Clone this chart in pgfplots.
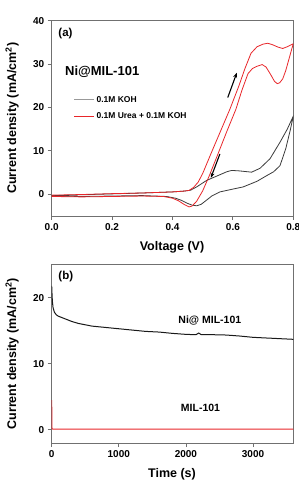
\documentclass[border=0pt]{standalone}
\usepackage{fontspec}
\setmainfont{Liberation Sans}
\usepackage{pgfplots}
\pgfplotsset{compat=1.18}
\usetikzlibrary{arrows.meta}

\definecolor{cvred}{HTML}{E8262A}
\definecolor{cvblack}{HTML}{3A3A3A}
\definecolor{framegray}{HTML}{707070}

\begin{document}
\begin{tikzpicture}
\useasboundingbox (0pt,0pt) rectangle (299pt,484pt);
\pgfplotsset{
  panel/.style={
    scale only axis, width=241.6pt,
    anchor=south west,
    axis line style={framegray, line width=0.8pt},
    tick align=outside, xtick pos=bottom, ytick pos=left,
    major tick length=4pt,
    tick style={framegray, line width=0.8pt},
    ticklabel style={font=\bfseries\fontsize{10}{12}\selectfont, text=black},
    /pgf/number format/assume math mode=true,
    /pgf/number format/1000 sep={},
    label style={font=\bfseries\fontsize{12.5}{14}\selectfont},
    ylabel style={at={(axis description cs:-0.164,0.5)}, anchor=center},
  }
}

% (a) cyclic voltammograms
\begin{axis}[panel, at={(51.7pt,268pt)}, height=195.3pt,
  xmin=0, xmax=0.8, ymin=-5, ymax=40,
  xtick={0,0.2,0.4,0.6,0.8},
  xticklabels={0.0,0.2,0.4,0.6,0.8},
  ytick={0,10,20,30,40},
  xlabel={Voltage (V)},
  ylabel={Current density (mA/cm\textsuperscript{2})},
  xlabel style={at={(axis description cs:0.498,-0.159)}, anchor=center},
  legend style={draw=none, fill=none, at={(axis description cs:0.09,0.625)}, anchor=north west,
    font=\bfseries\fontsize{8.5}{10}\selectfont, row sep=5pt, inner sep=0pt},
  legend cell align=left,
  legend image code/.code={\draw[#1] (0pt,0pt) -- (20pt,0pt);},
]
\addplot[cvblack, line width=0.8pt, forget plot] coordinates {
(0.00,-0.3) (0.10,-0.1) (0.20,0.1) (0.30,0.3) (0.40,0.55) (0.44,0.75) (0.46,0.95)
(0.48,1.7) (0.513,3.2) (0.55,4.3) (0.58,5.2) (0.596,5.5) (0.62,5.4) (0.662,5.1)
(0.69,6.0) (0.723,8.2) (0.756,12.0) (0.78,15.0) (0.80,18.0)
(0.79,14.8) (0.775,10.5) (0.756,6.6) (0.735,5.2) (0.712,4.3) (0.68,3.0) (0.634,1.7)
(0.60,1.2) (0.557,0.55) (0.53,-0.4) (0.51,-1.5) (0.495,-2.3) (0.48,-2.65) (0.465,-2.5)
(0.45,-2.1) (0.43,-1.4) (0.41,-0.9) (0.38,-0.5) (0.30,-0.3) (0.20,-0.4) (0.10,-0.5) (0.00,-0.4)
};
\addplot[cvred, line width=0.8pt, forget plot] coordinates {
(0.00,-0.2) (0.10,-0.05) (0.20,0.15) (0.30,0.3) (0.40,0.55) (0.44,0.75) (0.455,0.9)
(0.47,1.6) (0.485,2.8) (0.50,4.8) (0.53,9.8) (0.56,14.7) (0.59,19.6) (0.62,25.0)
(0.64,29.0) (0.66,32.5) (0.68,34.0) (0.70,34.6) (0.715,34.8) (0.73,34.5) (0.75,33.9)
(0.765,33.6) (0.78,34.0) (0.80,34.7)
(0.795,33.5) (0.785,31.0) (0.775,28.5) (0.765,26.6) (0.755,25.7) (0.747,25.5) (0.738,26.0)
(0.725,27.6) (0.71,29.3) (0.697,29.9) (0.68,29.5) (0.665,29.0) (0.65,27.8) (0.63,24.0)
(0.61,19.6) (0.58,14.5) (0.55,9.2) (0.522,4.3) (0.50,0.8) (0.48,-1.6) (0.465,-2.7)
(0.455,-2.9) (0.44,-2.4) (0.42,-1.5) (0.40,-0.9) (0.37,-0.5) (0.30,-0.4) (0.20,-0.5)
(0.10,-0.6) (0.00,-0.5)
};
\addlegendimage{gray!80, line width=0.9pt}
\addlegendentry{0.1M KOH}
\addlegendimage{cvred, line width=0.9pt}
\addlegendentry{0.1M Urea + 0.1M KOH}
\node[anchor=north west, font=\bfseries\fontsize{11.5}{13}\selectfont, inner sep=0pt]
  at (axis description cs:0.027,0.964) {(a)};
\node[anchor=west, font=\bfseries\fontsize{13}{15}\selectfont, inner sep=0pt]
  at (axis description cs:0.055,0.737) {Ni@MIL-101};
\draw[-{Stealth[length=5pt,width=4pt]}, line width=1.1pt] (axis cs:0.583,22.3) -- (axis cs:0.613,28.0);
\draw[-{Stealth[length=5pt,width=4pt]}, line width=1.1pt] (axis cs:0.557,9.3) -- (axis cs:0.527,3.8);
\end{axis}

% (b) chronoamperometry
\begin{axis}[panel, at={(51.7pt,41pt)}, height=178.3pt,
  xmin=0, xmax=3600, ymin=-2, ymax=25,
  xtick={0,1000,2000,3000},
  ytick={0,10,20},
  scaled x ticks=false,
  xlabel={Time (s)},
  ylabel={Current density (mA/cm\textsuperscript{2})},
  xlabel style={at={(axis description cs:0.498,-0.174)}, anchor=center},
]
\addplot[black!90, line width=1.0pt] coordinates {
(0,21.8) (5,20.5) (10,19.5) (20,18.5) (40,17.8) (70,17.4) (100,17.2) (150,17.0)
(200,16.8) (300,16.4) (400,16.1) (500,15.9) (600,15.7) (800,15.5) (1000,15.3)
(1200,15.1) (1400,14.9) (1600,14.8) (1800,14.6) (2000,14.45) (2150,14.4) (2190,14.65)
(2230,14.4) (2400,14.4) (2600,14.35) (2800,14.2) (3000,14.0) (3200,13.9) (3400,13.8) (3600,13.7)
};
\addplot[cvred, line width=1.0pt] coordinates {
(0,4.5) (3,0.3) (10,0.12) (500,0.1) (1000,0.1) (2000,0.1) (3000,0.1) (3600,0.1)
};
\node[anchor=north west, font=\bfseries\fontsize{11.5}{13}\selectfont, inner sep=0pt]
  at (axis description cs:0.027,0.964) {(b)};
\node[font=\bfseries\fontsize{10.5}{12}\selectfont, inner sep=0pt]
  at (axis cs:2356,16.5) {Ni@ MIL-101};
\node[font=\bfseries\fontsize{10.5}{12}\selectfont, inner sep=0pt]
  at (axis cs:2217,3.3) {MIL-101};
\end{axis}
\end{tikzpicture}
\end{document}
